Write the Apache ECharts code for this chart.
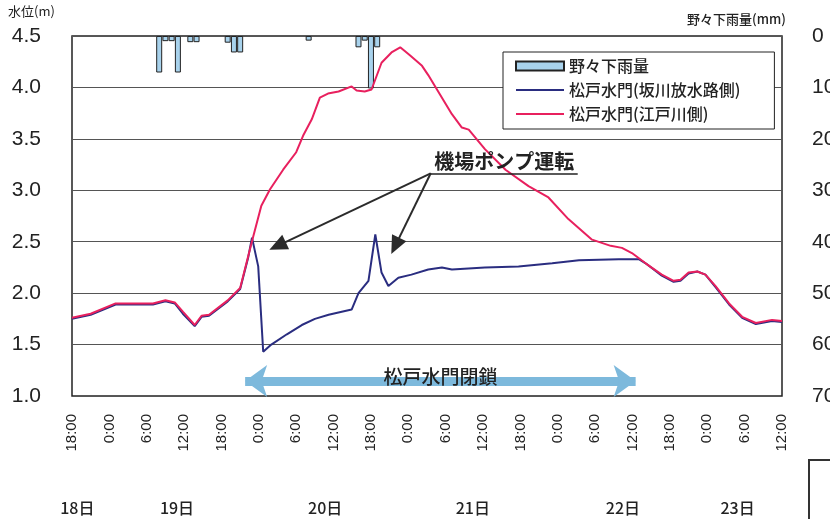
<!DOCTYPE html>
<html>
<head>
<meta charset="utf-8">
<script src="https://cdn.jsdelivr.net/npm/echarts@6/dist/echarts.min.js"></script>
<style>
  html, body { margin: 0; padding: 0; background: #fff; }
  #main { width: 830px; height: 519px; }
</style>
</head>
<body>
<div id="main"></div>
<script>
// hours counted from 18日 18:00
var edoHours = [0, 3, 7, 13, 15, 16.5, 17.8, 19.7, 20.8, 22, 25, 27, 28.3, 29.1, 30.4, 31.8, 33.9, 36, 37.1, 38.5, 39.8, 41.1, 42.8, 44.9, 45.7, 47, 48.1, 49.7, 51.3, 52.7, 54.3, 56.2, 57.2, 58.6, 61, 62.6, 63.7, 66.3, 69.6, 73.3, 76.5, 79.7, 83.5, 86.5, 88.3, 89.9, 92.1, 94.7, 96.6, 97.7, 99, 100.4, 101.7, 103.3, 105.5, 107.6, 109.8, 112.4, 114];
var edoLevel = [1.76, 1.80, 1.90, 1.90, 1.93, 1.91, 1.82, 1.69, 1.78, 1.79, 1.93, 2.05, 2.36, 2.55, 2.85, 3.01, 3.20, 3.37, 3.53, 3.69, 3.90, 3.94, 3.96, 4.01, 3.97, 3.96, 3.98, 4.24, 4.34, 4.39, 4.31, 4.21, 4.12, 3.98, 3.74, 3.61, 3.59, 3.40, 3.20, 3.04, 2.93, 2.72, 2.52, 2.46, 2.44, 2.39, 2.29, 2.18, 2.12, 2.13, 2.20, 2.21, 2.18, 2.07, 1.90, 1.77, 1.71, 1.74, 1.73];

var sakaHours = [0, 3, 7, 13, 15, 16.5, 17.8, 19.7, 20.8, 22, 25, 27, 28.3, 28.9, 29.9, 30.7, 32, 34.5, 36.9, 39, 41.2, 44.9, 46, 47.6, 48.7, 49.7, 50.8, 52.4, 54.5, 57.2, 59.4, 61, 66.3, 71.7, 77.1, 81.4, 87.8, 91, 92.1, 94.7, 96.6, 97.7, 99, 100.4, 101.7, 103.3, 105.5, 107.6, 109.8, 112.4, 114];
var sakaLevel = [1.75, 1.79, 1.89, 1.89, 1.92, 1.90, 1.80, 1.68, 1.77, 1.78, 1.92, 2.04, 2.35, 2.54, 2.26, 1.43, 1.50, 1.60, 1.69, 1.75, 1.79, 1.84, 2.00, 2.12, 2.57, 2.20, 2.07, 2.15, 2.18, 2.23, 2.25, 2.23, 2.25, 2.26, 2.29, 2.32, 2.33, 2.33, 2.29, 2.17, 2.11, 2.12, 2.19, 2.21, 2.18, 2.06, 1.89, 1.76, 1.70, 1.73, 1.72];

var rainHours = [14, 15, 16, 17, 19, 20, 25, 26, 27, 38, 46, 47, 48, 49];
var rainMm = [7.1, 1.0, 1.0, 7.1, 1.2, 1.2, 1.3, 3.2, 3.2, 0.9, 2.2, 0.9, 10.2, 2.2];

var dayLabels = ['18日', '19日', '20日', '21日', '22日', '23日'];
var dayLabelHours = [1, 17, 40.8, 64.5, 88.6, 107];

var seriesNames = ['野々下雨量', '松戸水門(坂川放水路側)', '松戸水門(江戸川側)'];

function pairs(xs, ys) {
  var out = [];
  for (var i = 0; i < xs.length; i++) {
    out.push([xs[i], ys[i]]);
  }
  return out;
}

var numFont = 'Liberation Sans, Arial, sans-serif';
var jpFont = 'Noto Sans CJK JP, sans-serif';

var chart = echarts.init(document.getElementById('main'));

var option = {
  animation: false,
  backgroundColor: '#fff',
  grid: {
    left: 72,
    right: 48,
    top: 36,
    bottom: 123,
    outerBoundsMode: 'none',
    containLabel: false,
    show: true,
    borderColor: '#222',
    borderWidth: 1.5
  },
  legend: {
    orient: 'vertical',
    left: 503,
    top: 52,
    padding: [6, 34, 7, 12],
    itemGap: 8,
    itemWidth: 48,
    itemHeight: 9,
    backgroundColor: '#fff',
    borderColor: '#222',
    borderWidth: 1,
    data: [
      { name: seriesNames[0], icon: 'rect' },
      { name: seriesNames[1], itemStyle: { opacity: 0 } },
      { name: seriesNames[2], itemStyle: { opacity: 0 } }
    ],
    textStyle: {
      fontFamily: jpFont,
      fontSize: 16,
      fontWeight: 500,
      color: '#222'
    }
  },
  xAxis: {
    type: 'value',
    min: 0,
    max: 114,
    interval: 6,
    axisLine: { show: false },
    axisTick: { show: false },
    splitLine: { show: false },
    axisLabel: {
      rotate: 90,
      margin: 18,
      fontSize: 15,
      fontFamily: numFont,
      color: '#222',
      formatter: function (v) {
        return ((18 + v) % 24) + ':00';
      }
    }
  },
  yAxis: [{
    type: 'value',
    min: 1.0,
    max: 4.5,
    interval: 0.5,
    axisLine: { show: false },
    axisTick: { show: false },
    splitLine: { lineStyle: { color: '#555', width: 1 } },
    axisLabel: {
      margin: 31,
      fontSize: 21,
      fontFamily: numFont,
      color: '#222',
      formatter: function (v) { return v.toFixed(1); }
    }
  }, {
    type: 'value',
    min: 0,
    max: 70,
    interval: 10,
    inverse: true,
    axisLine: { show: false },
    axisTick: { show: false },
    splitLine: { show: false },
    axisLabel: {
      margin: 30,
      fontSize: 21,
      fontFamily: numFont,
      color: '#222'
    }
  }],
  series: [{
    name: seriesNames[0],
    type: 'bar',
    yAxisIndex: 1,
    barWidth: 6,
    itemStyle: {
      color: '#a8d2ec',
      borderColor: '#222',
      borderWidth: 1
    },
    data: pairs(rainHours, rainMm)
  }, {
    name: seriesNames[1],
    type: 'line',
    symbol: 'none',
    showSymbol: false,
    lineStyle: { color: '#2a2d80', width: 2 },
    itemStyle: { color: '#2a2d80' },
    data: pairs(sakaHours, sakaLevel),
    markLine: {
      silent: true,
      animation: false,
      label: { show: false },
      data: [
        [
          { coord: [57.6, 3.165], symbol: 'none' },
          { coord: [33.0, 2.46], symbol: 'triangle', symbolSize: [16, 18] }
        ],
        [
          { coord: [57.6, 3.165], symbol: 'none' },
          { coord: [51.9, 2.46], symbol: 'triangle', symbolSize: [16, 18] }
        ]
      ],
      lineStyle: { color: '#2b2b2b', width: 2, type: 'solid' },
      itemStyle: { color: '#555', borderColor: '#222', borderWidth: 1 }
    }
  }, {
    name: seriesNames[2],
    type: 'line',
    symbol: 'none',
    showSymbol: false,
    lineStyle: { color: '#e8205e', width: 2 },
    itemStyle: { color: '#e8205e' },
    data: pairs(edoHours, edoLevel),
    markLine: {
      silent: true,
      animation: false,
      symbol: 'none',
      data: [
        [
          {
            coord: [57.6, 3.165],
            lineStyle: { color: '#222', width: 1.5, type: 'solid' },
            label: {
              show: true,
              position: 'insideMiddleTop',
              distance: 2,
              formatter: '機場ポンプ運転',
              fontFamily: jpFont,
              fontSize: 20,
              fontWeight: 'bold',
              color: '#222'
            }
          },
          { coord: [81.2, 3.165] }
        ],
        [
          {
            coord: [27.8, 1.147],
            symbol: 'arrow',
            symbolSize: [24, 22],
            lineStyle: { color: '#7db9dc', width: 9, type: 'solid' },
            label: {
              show: true,
              position: 'middle',
              distance: -5,
              formatter: '松戸水門閉鎖',
              fontFamily: jpFont,
              fontSize: 19,
              fontWeight: 500,
              color: '#222'
            }
          },
          { coord: [90.5, 1.147], symbol: 'arrow', symbolSize: [24, 22] }
        ]
      ],
      itemStyle: { color: '#7db9dc' }
    }
  }]
};

chart.setOption(option);

// day labels under the time axis, placed through the x scale
var graphics = [];
for (var i = 0; i < dayLabels.length; i++) {
  var px = chart.convertToPixel({ xAxisIndex: 0 }, dayLabelHours[i]);
  graphics.push({
    type: 'text',
    left: px - 18,
    top: 500,
    style: {
      text: dayLabels[i],
      font: '500 16px ' + jpFont,
      fill: '#222'
    }
  });
}
graphics.push({
  type: 'text', left: 8, top: 5,
  style: { text: '水位(m)', font: '13px ' + jpFont, fill: '#222' }
});
graphics.push({
  type: 'text', left: 687, top: 13,
  style: { text: '野々下雨量(mm)', font: '500 13px ' + jpFont, fill: '#222' }
});
graphics.push({
  type: 'polyline',
  shape: { points: [[809, 519], [809, 460], [830, 460]] },
  style: { stroke: '#333', lineWidth: 2, fill: null }
});
chart.setOption({ graphic: graphics });
</script>
</body>
</html>
